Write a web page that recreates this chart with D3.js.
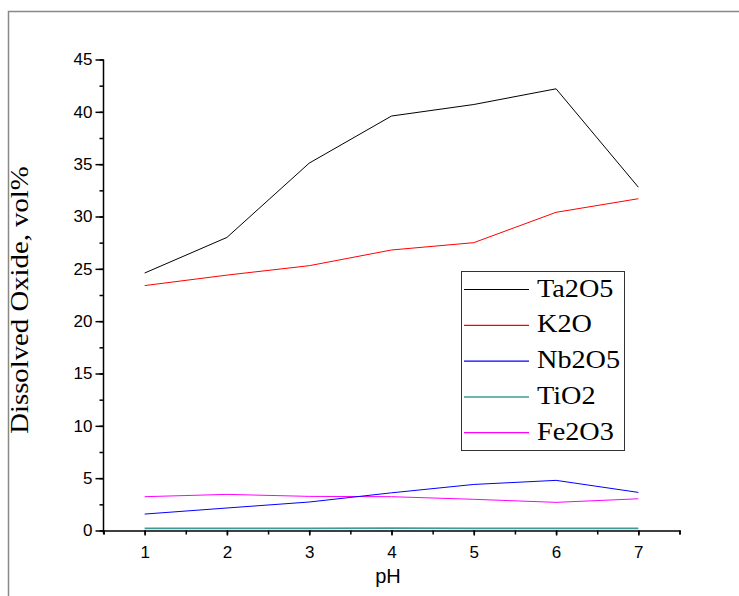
<!DOCTYPE html>
<meta charset="utf-8">
<html>
  <head>
    <script src="https://d3js.org/d3.v7.min.js"></script>
    <title>Dissolved oxide vs pH</title>
    <style>
      body { margin: 0; background: #fff; }
      svg { display: block; }
      .tick text { font-family: "Liberation Sans", Arial, sans-serif; font-size: 17px; fill: #000; }
    </style>
  </head>
  <body>
  <script>

const ph = [1, 2, 3, 4, 5, 6, 7];
const ta2o5 = [24.6, 28.0, 35.1, 39.6, 40.7, 42.2, 32.8],
      k2o   = [23.4, 24.4, 25.3, 26.8, 27.5, 30.4, 31.7],
      nb2o5 = [1.57, 2.15, 2.72, 3.6, 4.4, 4.79, 3.64],
      tio2  = [0.2, 0.2, 0.2, 0.22, 0.2, 0.2, 0.2],
      fe2o3 = [3.23, 3.45, 3.26, 3.23, 2.98, 2.69, 3.03];

const series = [
  {name: 'Ta2O5', values: ta2o5, colour: '#000000', width: 1},
  {name: 'K2O',   values: k2o,   colour: '#ff0000', width: 1},
  {name: 'Nb2O5', values: nb2o5, colour: '#0000ff', width: 1},
  {name: 'TiO2',  values: tio2,  colour: '#3c9c9c', width: 1.8},
  {name: 'Fe2O3', values: fe2o3, colour: '#ff00ff', width: 1}
];

const width = 739, height = 596;
const serif = '"Liberation Serif", "Times New Roman", serif';

const svg = d3.select('body').append('svg')
  .attr('width', width)
  .attr('height', height);

// page frame (open at right / bottom)
svg.append('path')
  .attr('d', 'M8.5,596 V11.5 H739')
  .attr('fill', 'none')
  .attr('stroke', '#888')
  .attr('stroke-width', 1.5);

const x = d3.scaleLinear().domain([0.5, 7.5]).range([103.5, 679.5]),
      y = d3.scaleLinear().domain([0, 45]).range([530.5, 59.5]);

// minor ticks
const x_minor = d3.axisBottom(x).tickValues(d3.range(0.5, 7.6, 0.5)).tickSize(4).tickFormat('');
const y_minor = d3.axisLeft(y).tickValues(d3.range(0, 45.1, 2.5)).tickSize(4).tickFormat('');

svg.append('g').attr('transform', 'translate(0,530.5)').call(x_minor)
  .call(g => g.select('.domain').attr('stroke-width', 1.5))
  .call(g => g.selectAll('line').attr('stroke-width', 1.5));
svg.append('g').attr('transform', 'translate(103.5,0)').call(y_minor)
  .call(g => g.select('.domain').remove())
  .call(g => g.selectAll('line').attr('stroke-width', 1.5));

svg.append('g').attr('transform', 'translate(0,530.5)')
  .call(d3.axisBottom(x).tickValues(ph).tickFormat(d3.format('d')).tickSize(5).tickPadding(10).tickSizeOuter(0))
  .call(g => g.select('.domain').remove())
  .call(g => g.selectAll('line').attr('stroke-width', 1.5));

svg.append('g').attr('transform', 'translate(103.5,0)')
  .call(d3.axisLeft(y).tickValues(d3.range(0, 46, 5)).tickFormat(d3.format('d')).tickSize(8).tickPadding(3).tickSizeOuter(0))
  .call(g => g.select('.domain').attr('d', 'M0,' + (y(45)) + 'V' + (y(0) + 3)).attr('stroke-width', 1.5))
  .call(g => g.selectAll('line').attr('stroke-width', 1.5));

// lines
const line = d3.line().x((d, i) => x(ph[i])).y(d => y(d));

svg.append('g').selectAll('path')
  .data(series.slice().reverse())
  .join('path')
    .attr('d', s => line(s.values))
    .attr('fill', 'none')
    .attr('stroke', s => s.colour)
    .attr('stroke-width', s => s.width);

// axis titles
svg.append('text')
  .attr('x', 388).attr('y', 583)
  .attr('text-anchor', 'middle')
  .style('font-family', '"Liberation Sans", Arial, sans-serif')
  .style('font-size', '20px')
  .text('pH');

// the original serif text is a little wider than Liberation Serif, so stretch it
svg.append('text')
  .attr('transform', 'translate(28,300) rotate(-90) scale(1.15,1)')
  .attr('text-anchor', 'middle')
  .style('font-family', serif)
  .style('font-size', '25px')
  .text('Dissolved Oxide, vol%');

// legend
const legend = svg.append('g');
legend.append('rect')
  .attr('x', 461.5).attr('y', 271.5)
  .attr('width', 163).attr('height', 179)
  .attr('fill', '#fff')
  .attr('stroke', '#333')
  .attr('stroke-width', 1);

const item = legend.selectAll('g.item')
  .data(series)
  .join('g')
    .attr('class', 'item')
    .attr('transform', (d, i) => 'translate(0,' + (289.5 + i * 35.8) + ')');

item.append('line')
  .attr('x1', 464).attr('x2', 529)
  .attr('stroke', d => d.colour)
  .attr('stroke-width', d => d.width > 1 ? 1.5 : 1.2);

item.append('text')
  .attr('transform', 'translate(537,7) scale(1.13,1)')
  .style('font-family', serif)
  .style('font-size', '25px')
  .text(d => d.name);

  </script>
  </body>
</html>
